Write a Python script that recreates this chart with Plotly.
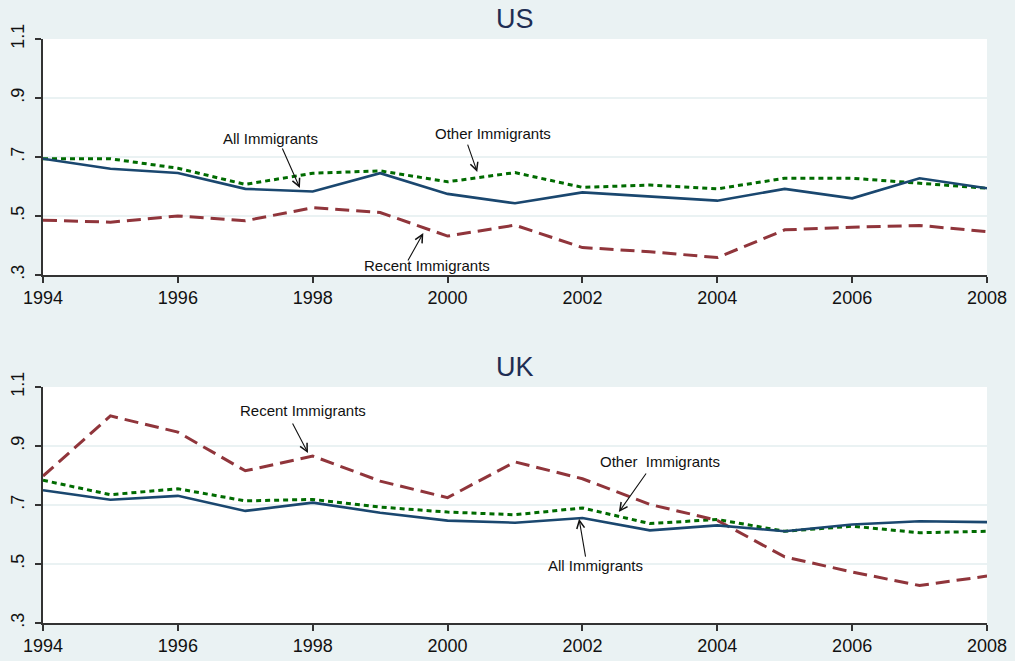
import plotly.graph_objects as go

# Years covered by both panels
years = list(range(1994, 2009))

# United States
us_all = [0.694, 0.660, 0.646, 0.592, 0.583, 0.645, 0.575, 0.543, 0.580, 0.565, 0.552, 0.592, 0.560, 0.628, 0.594]
us_other = [0.694, 0.694, 0.662, 0.607, 0.645, 0.653, 0.616, 0.647, 0.597, 0.605, 0.592, 0.628, 0.628, 0.611, 0.594]
us_recent = [0.486, 0.479, 0.500, 0.484, 0.528, 0.512, 0.432, 0.469, 0.393, 0.379, 0.359, 0.453, 0.462, 0.468, 0.447]

# United Kingdom
uk_all = [0.750, 0.718, 0.731, 0.680, 0.708, 0.674, 0.647, 0.640, 0.656, 0.614, 0.631, 0.611, 0.634, 0.645, 0.642]
uk_other = [0.784, 0.735, 0.755, 0.714, 0.719, 0.693, 0.676, 0.667, 0.690, 0.637, 0.651, 0.611, 0.628, 0.606, 0.611]
uk_recent = [0.798, 1.002, 0.947, 0.816, 0.866, 0.781, 0.725, 0.846, 0.789, 0.702, 0.648, 0.524, 0.473, 0.427, 0.459]

panel_titles = ["US", "UK"]
y_ticks = [0.3, 0.5, 0.7, 0.9, 1.1]
y_tick_text = [".3", ".5", ".7", ".9", "1.1"]
x_ticks = [1994, 1996, 1998, 2000, 2002, 2004, 2006, 2008]

# Labelled arrows: (panel, text, text_x, text_y, tail_x, tail_y, tip_x, tip_y)
callouts = [
    (1, "All Immigrants", 1997.37, 0.764, 1997.54, 0.734, 1997.81, 0.595),
    (1, "Other Immigrants", 2000.67, 0.781, 2000.29, 0.747, 2000.44, 0.649),
    (1, "Recent Immigrants", 1999.69, 0.331, 1999.40, 0.344, 1999.64, 0.442),
    (2, "Recent Immigrants", 1997.86, 1.020, 1997.69, 0.981, 1997.93, 0.876),
    (2, "Other  Immigrants", 2003.15, 0.847, 2002.96, 0.812, 2002.54, 0.676),
    (2, "All Immigrants", 2002.20, 0.494, 2002.05, 0.520, 2001.95, 0.653),
]

BG = "#eaf2f3"
NAVY = "#1a476f"
MAROON = "#90353b"
GREEN = "#006b00"
FONT = "Arial, Liberation Sans, sans-serif"

fig = go.Figure()

panels = [
    (us_all, us_other, us_recent, "x", "y"),
    (uk_all, uk_other, uk_recent, "x2", "y2"),
]
for all_v, other_v, recent_v, xa, ya in panels:
    fig.add_trace(go.Scatter(x=years, y=other_v, mode="lines", xaxis=xa, yaxis=ya,
                             line=dict(color=GREEN, width=3, dash="5px,4px"),
                             showlegend=False, hoverinfo="skip"))
    fig.add_trace(go.Scatter(x=years, y=recent_v, mode="lines", xaxis=xa, yaxis=ya,
                             line=dict(color=MAROON, width=3, dash="14px,7px"),
                             showlegend=False, hoverinfo="skip"))
    fig.add_trace(go.Scatter(x=years, y=all_v, mode="lines", xaxis=xa, yaxis=ya,
                             line=dict(color=NAVY, width=2.6),
                             showlegend=False, hoverinfo="skip"))

xaxis_style = dict(
    range=[1994, 2008], tickmode="array", tickvals=x_ticks,
    ticks="outside", ticklen=6, tickwidth=1.5, tickcolor="#333333",
    showline=True, linecolor="#333333", linewidth=1.5,
    showgrid=False, zeroline=False, automargin=False,
    tickfont=dict(family=FONT, size=18, color="#111111"),
)
yaxis_style = dict(
    range=[0.3, 1.1], tickmode="array", tickvals=y_ticks, ticktext=y_tick_text,
    tickangle=-90, ticks="outside", ticklen=6, tickwidth=1.5, tickcolor="#333333",
    showline=True, linecolor="#333333", linewidth=1.5, ticklabelstandoff=4,
    showgrid=True, gridcolor=BG, gridwidth=2, zeroline=False, automargin=False,
    tickfont=dict(family=FONT, size=18, color="#111111"),
)

fig.update_layout(
    width=1015, height=661,
    paper_bgcolor=BG, plot_bgcolor="white",
    margin=dict(l=43, r=28, t=39, b=38),
    xaxis=dict(domain=[0, 1], anchor="y", **xaxis_style),
    yaxis=dict(domain=[0.5959, 1.0], anchor="x", **yaxis_style),
    xaxis2=dict(domain=[0, 1], anchor="y2", **xaxis_style),
    yaxis2=dict(domain=[0.0, 0.4041], anchor="x2", **yaxis_style),
)

# Panel headings
for title, ypos in zip(panel_titles, [1.0, 0.4041]):
    fig.add_annotation(text=title, xref="paper", yref="paper", x=0.5, y=ypos,
                       yshift=20, showarrow=False, yanchor="middle",
                       font=dict(family=FONT, size=27, color="#1e2d53"))

for panel, text, tx, ty, ax, ay, hx, hy in callouts:
    xr = "x" if panel == 1 else "x2"
    yr = "y" if panel == 1 else "y2"
    fig.add_annotation(text=text, x=tx, y=ty, xref=xr, yref=yr, showarrow=False,
                       font=dict(family=FONT, size=15, color="#111111"))
    fig.add_annotation(text="", x=hx, y=hy, xref=xr, yref=yr,
                       ax=ax, ay=ay, axref=xr, ayref=yr, showarrow=True,
                       arrowhead=5, arrowsize=1.4, arrowwidth=1.1, arrowcolor="#111111",
                       standoff=0, startstandoff=0)

fig.write_html("out.html")
